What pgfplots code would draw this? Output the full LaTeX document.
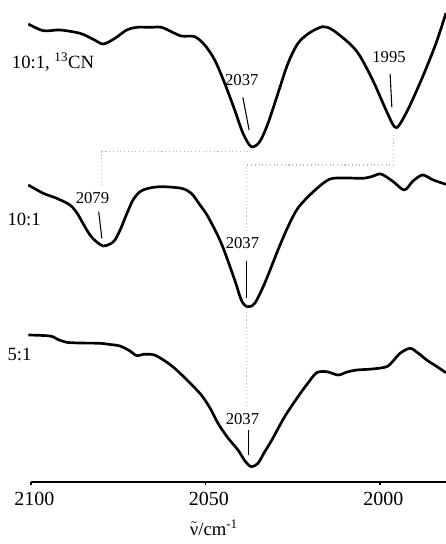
\documentclass[border=0pt]{standalone}
\usepackage{pgfplots}
\pgfplotsset{compat=1.18}
\usepackage{fontspec}
\setmainfont{Liberation Serif}
\begin{document}
\begin{tikzpicture}[x=0.75pt,y=0.75pt]
\begin{axis}[
 at={(0,0)}, anchor=south west,
 scale only axis, width=311.25pt, height=361.5pt,
 xmin=1981.09, xmax=2100, ymin=-482, ymax=0,
 x dir=reverse,
 axis x line=bottom, axis y line=none,
 axis line style={-, line width=1.2pt},
 xtick={2100,2050,2000},
 tick align=outside, major tick length=2.5pt,
 xtick style={line width=1pt, black},
 xticklabel style={font=\fontsize{15}{15}\selectfont, anchor=base, yshift=-15pt, xshift=2.5pt},
 /pgf/number format/assume math mode=true,
 /pgf/number format/set thousands separator={},
 clip=false,
]
% top trace: 10:1, 13CN
\addplot[black, line width=2pt, smooth, line join=round] coordinates {
(2100.77,-24) (2096.48,-30.7) (2091.69,-30) (2085.96,-33.3) (2082.15,-39.3)
(2079.28,-44) (2075.93,-38.3) (2072.58,-30) (2069.71,-27.3) (2065.90,-27.3)
(2062.66,-27.3) (2059.80,-31.7) (2056.93,-36) (2053.09,-36.7) (2050.23,-45)
(2047.36,-60) (2044.50,-83.3) (2041.63,-110) (2039.26,-133.3) (2036.88,-146.7)
(2034.47,-141.7) (2032.09,-123.3) (2029.23,-93.3) (2026.36,-63.3) (2023.50,-43.3)
(2020.26,-33) (2016.42,-26.7) (2013.55,-30) (2008.80,-43.3) (2005.93,-55)
(2002.09,-80) (1998.28,-110) (1995.90,-126.7) (1994.47,-125) (1991.60,-106.7)
(1987.77,-76.7) (1983.95,-43.3) (1981.09,-13)
};
% middle trace: 10:1
\addplot[black, line width=2pt, smooth, line join=round] coordinates {
(2100.77,-185) (2096.48,-193.3) (2092.64,-198.3) (2088.83,-205) (2086.82,-213)
(2085.01,-224) (2083.09,-235) (2081.17,-242) (2079.28,-246) (2077.36,-244)
(2075.93,-240) (2074.21,-228) (2072.58,-214) (2070.77,-200) (2068.77,-191.7)
(2066.39,-188.3) (2062.66,-186.7) (2056.93,-188.3) (2054.07,-193.3) (2051.58,-205)
(2049.28,-216.7) (2045.47,-243.3) (2041.63,-280) (2039.74,-300) (2038.11,-306.7)
(2035.90,-303.3) (2033.04,-283.3) (2029.23,-250) (2026.36,-226.7) (2023.50,-208)
(2019.11,-191.7) (2014.53,-179.3) (2010.03,-178) (2004.96,-178.3) (2002.29,-176.5)
(1999.71,-174) (1996.19,-181.7) (1993.04,-190) (1990.54,-181) (1987.77,-175)
(1984.73,-180) (1981.09,-184.3)
};
% bottom trace: 5:1
\addplot[black, line width=2pt, smooth, line join=round] coordinates {
(2100.77,-335) (2094.56,-336) (2092.26,-339.5) (2089.77,-342.3) (2085.96,-343)
(2080.23,-343.3) (2077.36,-344.5) (2074.50,-346) (2071.63,-351) (2069.71,-355.7)
(2067.82,-354.3) (2066.48,-354.3) (2064.56,-355) (2061.60,-361) (2058.83,-368.3)
(2055.01,-381) (2051.20,-395) (2048.71,-408) (2046.42,-423.3) (2043.55,-438)
(2040.69,-450) (2038.68,-461) (2036.88,-466.7) (2034.96,-463.3) (2033.24,-453)
(2031.15,-441) (2027.31,-416.7) (2023.50,-396.7) (2020.63,-383) (2018.14,-372.7)
(2015.27,-371.7) (2011.95,-375) (2009.46,-372) (2006.68,-370) (2002.29,-369)
(1998.08,-366.7) (1995.99,-360) (1994.27,-353.3) (1991.40,-348.3) (1989.11,-353)
(1986.62,-360) (1983.95,-366) (1981.09,-372.7)
};
% dotted connectors
\draw[gray!50, dotted, line width=0.8pt] (axis cs:2037.7,-151.7) -- (axis cs:2079.7,-151.7) -- (axis cs:2079.7,-188);
\draw[gray!50, dotted, line width=0.8pt] (axis cs:1996.0,-135) -- (axis cs:1996.0,-165) -- (axis cs:2038.2,-165) -- (axis cs:2038.2,-231.7);
\draw[gray!50, dotted, line width=0.8pt] (axis cs:2038.2,-312) -- (axis cs:2038.2,-407);
% peak marker lines
\draw[black, line width=0.8pt] (axis cs:2039.3,-97.3) -- (axis cs:2037.5,-130);
\draw[black, line width=0.8pt] (axis cs:1997.1,-74) -- (axis cs:1996.6,-107.3);
\draw[black, line width=0.8pt] (axis cs:2080.6,-211.7) -- (axis cs:2079.7,-238.3);
\draw[black, line width=0.8pt] (axis cs:2038.2,-260.7) -- (axis cs:2038.2,-298.3);
\draw[black, line width=0.8pt] (axis cs:2037.7,-430) -- (axis cs:2037.7,-455);
% peak labels
\begin{scope}[every node/.style={anchor=base, inner sep=0pt, font=\fontsize{12.5}{12.5}\selectfont}]
\node at (axis cs:2039.6,-85) {2037};
\node at (axis cs:1997.4,-62) {1995};
\node at (axis cs:2082.4,-203.3) {2079};
\node at (axis cs:2039.4,-248.5) {2037};
\node at (axis cs:2039.4,-424) {2037};
\end{scope}
% trace labels
\begin{scope}[every node/.style={anchor=base west, inner sep=0pt, font=\fontsize{14}{14}\selectfont}]
\node at (axis cs:2105.53,-68) {10:1, \textsuperscript{13}CN};
\node at (axis cs:2106.79,-225) {10:1};
\node at (axis cs:2106.79,-360) {5:1};
\end{scope}
% x label
\node[anchor=base, inner sep=0pt, font=\fontsize{14}{14}\selectfont] at (axis cs:2047.6,-535) {$\tilde{\hbox{ν}}$/cm\textsuperscript{-1}};
\end{axis}
\pgfresetboundingbox
\useasboundingbox (-31,-62) rectangle (415,482);
\end{tikzpicture}
\end{document}
